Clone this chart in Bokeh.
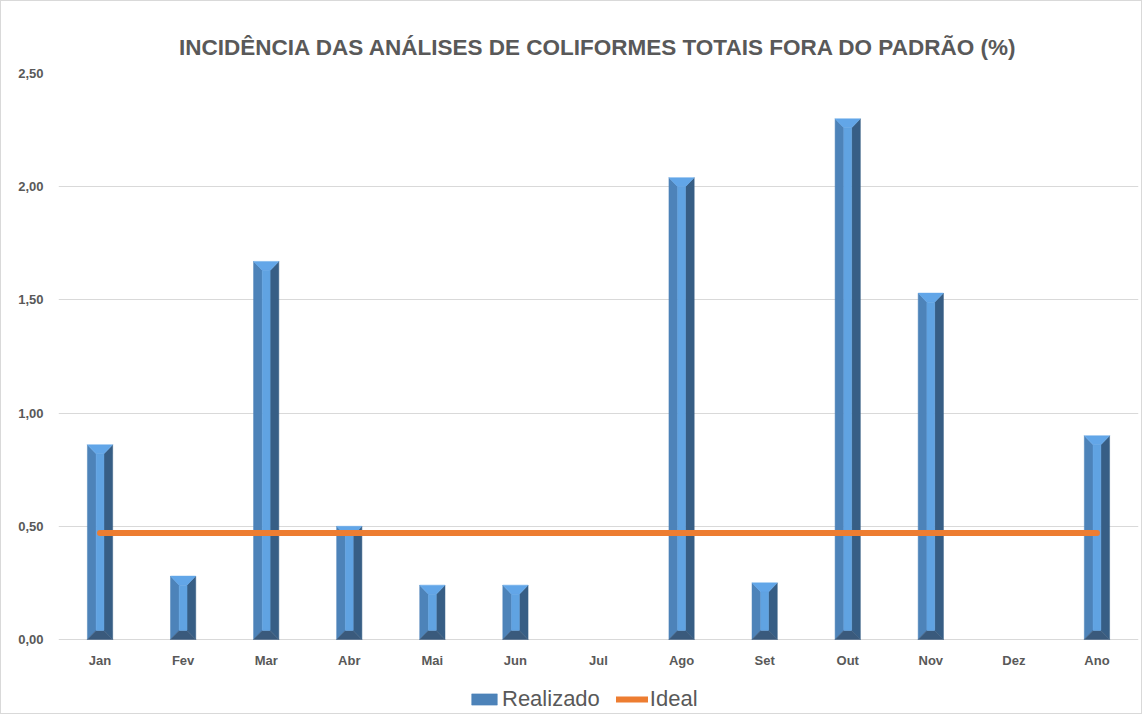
from bokeh.plotting import figure
from bokeh.models import FixedTicker, Legend, LegendItem, Range1d, ColumnDataSource
from bokeh.core.properties import value
from bokeh.embed import file_html
from bokeh.resources import INLINE

months = ["Jan", "Fev", "Mar", "Abr", "Mai", "Jun", "Jul", "Ago", "Set", "Out", "Nov", "Dez", "Ano"]
realizado = [0.86, 0.28, 1.67, 0.50, 0.24, 0.24, 0.0, 2.04, 0.25, 2.30, 1.53, 0.0, 0.90]
ideal = [0.47] * len(months)
y_ticks = [0.0, 0.5, 1.0, 1.5, 2.0, 2.5]

FONT = "Liberation Sans"
GRAY = "#595959"

Y_MAX = 2.5
Y_MIN = -0.327  # room under the zero line for month labels and legend

p = figure(frame_width=1080, frame_height=640,
           output_backend="svg", toolbar_location=None,
           x_range=Range1d(-0.5, len(months) - 0.5), y_range=Range1d(Y_MIN, Y_MAX),
           min_border_left=57, min_border_right=3, min_border_top=72, min_border_bottom=0)

p.title.text = "INCIDÊNCIA DAS ANÁLISES DE COLIFORMES TOTAIS FORA DO PADRÃO (%)"
p.title.align = "center"
p.title.text_font = FONT
p.title.text_font_style = "bold"
p.title.text_font_size = "22.5px"
p.title.text_color = GRAY
p.title.offset = 0
p.title.standoff = 28

# bevelled bars
hw = 0.152
bx = 0.105
by = 0.04
faces = {"left": ([], [], "#4d83b9"), "right": ([], [], "#375e85"),
         "top": ([], [], "#62a6e8"), "bottom": ([], [], "#3a5a7c"),
         "center": ([], [], "#60a3e2")}
for i, v in enumerate(realizado):
    if v <= 0:
        continue
    b = min(by, v / 3)
    x0, x1 = i - hw, i + hw
    faces["left"][0].append([x0, x0, x0 + bx, x0 + bx]); faces["left"][1].append([0, v, v - b, b])
    faces["right"][0].append([x1, x1, x1 - bx, x1 - bx]); faces["right"][1].append([0, v, v - b, b])
    faces["top"][0].append([x0, x1, x1 - bx, x0 + bx]); faces["top"][1].append([v, v, v - b, v - b])
    faces["bottom"][0].append([x0, x1, x1 - bx, x0 + bx]); faces["bottom"][1].append([0, 0, b, b])
    faces["center"][0].append([x0 + bx, x1 - bx, x1 - bx, x0 + bx]); faces["center"][1].append([b, b, v - b, v - b])

renderers = {}
for key in ["left", "right", "top", "bottom", "center"]:
    xs, ys, col = faces[key]
    renderers[key] = p.patches(xs=xs, ys=ys, fill_color=col, line_color=col, line_width=0.5)

xi = list(range(len(months)))
line = p.line(xi, ideal, line_color="#ED7D31", line_width=6, line_cap="round")

# month labels under the zero line
lab_src = ColumnDataSource(dict(x=xi, y=[-0.093] * len(months), t=months))
p.text(x="x", y="y", text="t", source=lab_src, text_align="center", text_baseline="middle",
       text_font=value(FONT), text_font_style="bold", text_font_size="13px", text_color=GRAY)

p.xaxis.visible = False
p.yaxis.ticker = FixedTicker(ticks=y_ticks)
p.yaxis.major_label_overrides = {t: f"{t:.2f}".replace(".", ",") for t in y_ticks}
ax = p.yaxis[0]
ax.major_tick_line_color = None
ax.minor_tick_line_color = None
ax.major_label_text_font = FONT
ax.major_label_text_font_style = "bold"
ax.major_label_text_font_size = "13px"
ax.major_label_text_color = GRAY
ax.axis_line_color = None
ax.major_label_standoff = 9

p.xgrid.grid_line_color = None
p.ygrid.grid_line_color = "#d9d9d9"
p.ygrid.ticker = FixedTicker(ticks=y_ticks)
p.outline_line_color = None

legend = Legend(items=[LegendItem(label="Realizado", renderers=[renderers["left"]]),
                       LegendItem(label="Ideal", renderers=[line])],
                orientation="horizontal", location=(410, 1),
                label_text_font=FONT, label_text_font_size="22px", label_text_color=GRAY,
                label_height=22, glyph_width=32, glyph_height=14, spacing=16, label_standoff=2,
                border_line_color=None, background_fill_alpha=0, padding=0, margin=0)
p.add_layout(legend, "center")

p.styles = {"border": "1px solid #d9d9d9"}

open("out.html", "w").write(file_html(p, INLINE))
